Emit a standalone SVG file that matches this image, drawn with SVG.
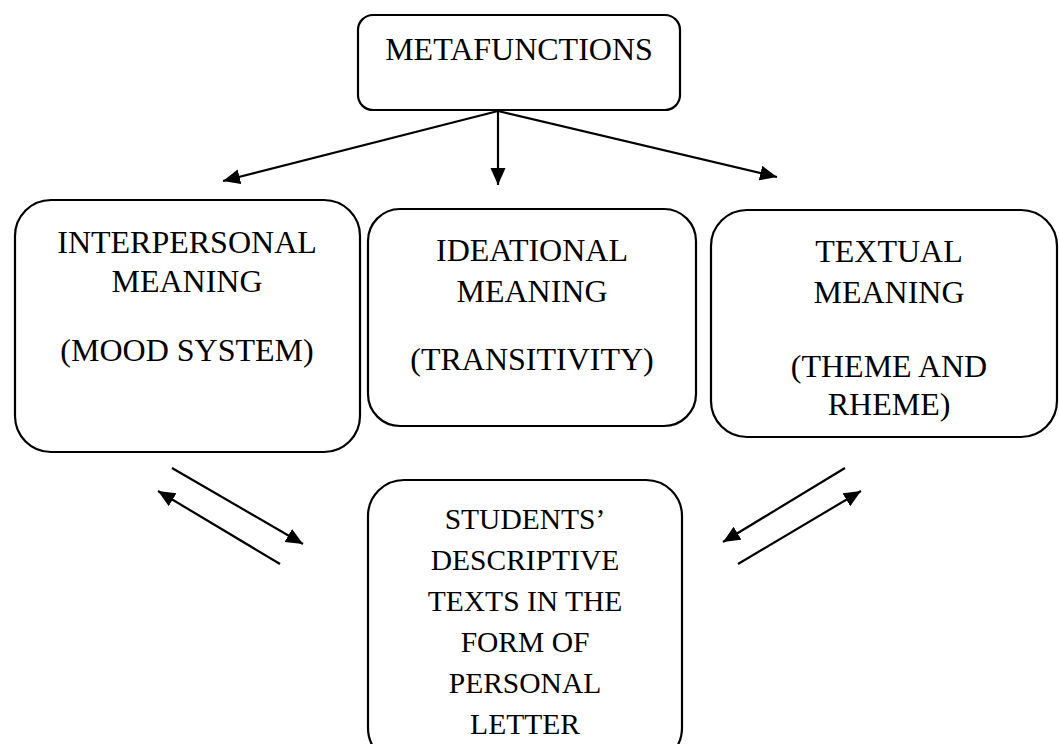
<svg xmlns="http://www.w3.org/2000/svg" width="1059" height="744" viewBox="0 0 1059 744">
<style>
.box{fill:#fff;stroke:#000;stroke-width:2.2}
.t{font-family:"Liberation Serif","Times New Roman",serif;font-size:32px;fill:#000;text-anchor:middle}
.s{font-size:29.5px}
.c{stroke:#000;stroke-width:2.2;fill:none;marker-end:url(#ah)}
</style>
<defs>
<marker id="ah" markerUnits="userSpaceOnUse" markerWidth="20" markerHeight="16" refX="17" refY="7.5" orient="auto">
<path d="M0,0 L17,7.5 L0,15 Z" fill="#000"/>
</marker>
</defs>
<g id="connectors">
<line class="c" x1="498" y1="111" x2="223" y2="181"/>
<line class="c" x1="498" y1="111" x2="498" y2="185"/>
<line class="c" x1="498" y1="111" x2="777" y2="177"/>
<line class="c" x1="172" y1="468" x2="303" y2="544"/>
<line class="c" x1="280" y1="564" x2="158" y2="491"/>
<line class="c" x1="845" y1="468" x2="723" y2="542"/>
<line class="c" x1="738" y1="564" x2="861" y2="491"/>
</g>
<g id="metafunctions">
<rect class="box" x="358" y="15" width="322" height="95" rx="15"/>
<text class="t" x="519" y="60">METAFUNCTIONS</text>
</g>
<g id="interpersonal">
<rect class="box" x="15" y="200" width="345" height="252" rx="36"/>
<text class="t" x="187" y="253">INTERPERSONAL</text>
<text class="t" x="187" y="292">MEANING</text>
<text class="t" x="187" y="361">(MOOD SYSTEM)</text>
</g>
<g id="ideational">
<rect class="box" x="368" y="209" width="328" height="217" rx="32"/>
<text class="t" x="532" y="261">IDEATIONAL</text>
<text class="t" x="532" y="302">MEANING</text>
<text class="t" x="532" y="370">(TRANSITIVITY)</text>
</g>
<g id="textual">
<rect class="box" x="711" y="210" width="346" height="227" rx="36"/>
<text class="t" x="889" y="262">TEXTUAL</text>
<text class="t" x="889" y="303">MEANING</text>
<text class="t" x="889" y="377">(THEME AND</text>
<text class="t" x="889" y="415">RHEME)</text>
</g>
<g id="students">
<rect class="box" x="368" y="480" width="314" height="284" rx="36"/>
<text class="t s" x="525" y="529">STUDENTS’</text>
<text class="t s" x="525" y="570">DESCRIPTIVE</text>
<text class="t s" x="525" y="611">TEXTS IN THE</text>
<text class="t s" x="525" y="652">FORM OF</text>
<text class="t s" x="525" y="693">PERSONAL</text>
<text class="t s" x="525" y="734">LETTER</text>
</g>
</svg>
